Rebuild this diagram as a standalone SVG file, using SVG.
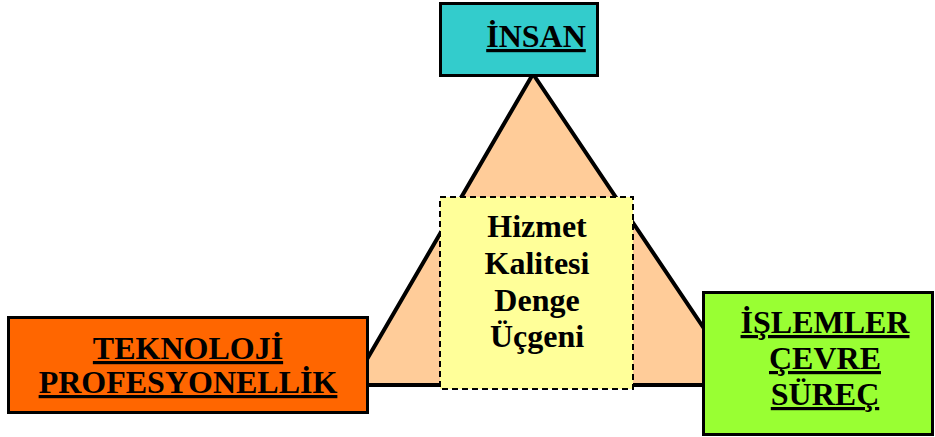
<svg xmlns="http://www.w3.org/2000/svg" width="935" height="437" viewBox="0 0 935 437">
<style>
.t{font-family:"Liberation Serif","Times New Roman",serif;font-weight:bold;font-size:32px;fill:#000;text-anchor:middle}
.u{text-decoration:underline}
.box{stroke:#000;stroke-width:3}
</style>
<rect width="935" height="437" fill="#fff"/>
<g id="triangle">
<polygon points="533,74 352,385 742,385" fill="#FFCC99" stroke="#000" stroke-width="4" stroke-linejoin="miter"/>
</g>
<g id="insan">
<rect class="box" x="440.5" y="3.5" width="157" height="72" fill="#33CCCC"/>
<text class="t u" x="536" y="47">İNSAN</text>
</g>
<g id="teknoloji">
<rect class="box" x="8.5" y="317.5" width="359" height="95" fill="#FF6600"/>
<text class="t u" x="188" y="359">TEKNOLOJİ</text>
<text class="t u" x="188" y="393">PROFESYONELLİK</text>
</g>
<g id="islemler">
<rect class="box" x="703.5" y="292.5" width="229" height="142" fill="#99FF33"/>
<text class="t u" x="825" y="333">İŞLEMLER</text>
<text class="t u" x="825" y="369">ÇEVRE</text>
<text class="t u" x="825" y="405">SÜREÇ</text>
</g>
<g id="center">
<rect x="440" y="197" width="193" height="192" fill="#FFFF99" stroke="#000" stroke-width="2" stroke-dasharray="6,4"/>
<text class="t" x="537" y="237">Hizmet</text>
<text class="t" x="537" y="274">Kalitesi</text>
<text class="t" x="537" y="311">Denge</text>
<text class="t" x="537" y="347">Üçgeni</text>
</g>
<g id="connectors"></g>
</svg>
